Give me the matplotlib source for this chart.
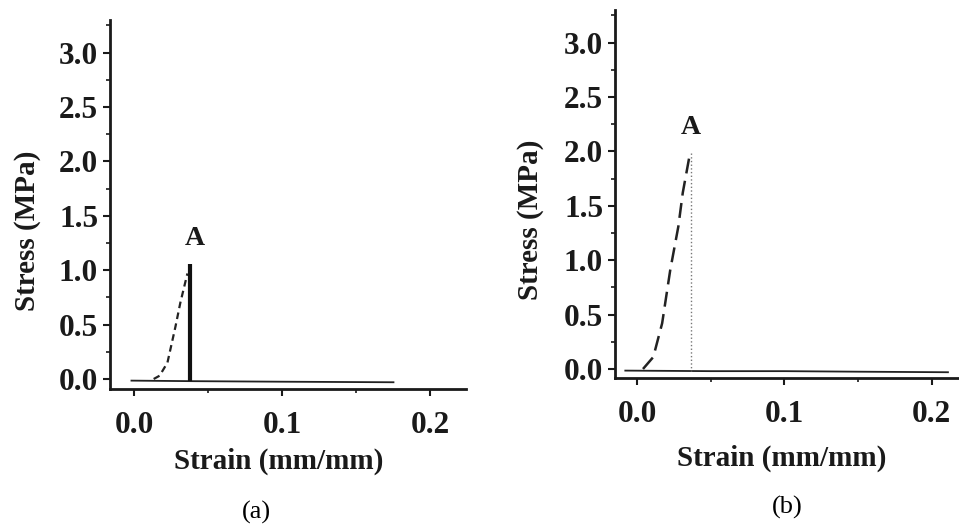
import numpy as np
import matplotlib.pyplot as plt
from matplotlib.ticker import MultipleLocator

plt.rcParams['font.family'] = 'Liberation Serif'

# (a) loading curve up to failure point A, then the drop and the baseline
a_load_strain = [0.013, 0.017, 0.0223, 0.0277, 0.031, 0.0358]
a_load_stress = [0.0, 0.03, 0.15, 0.48, 0.70, 0.97]
a_drop_strain = [0.0378, 0.0378]
a_drop_stress = [1.06, -0.02]
a_base_strain = [-0.002, 0.04, 0.10, 0.175]
a_base_stress = [-0.015, -0.02, -0.025, -0.03]
a_peak = (0.0405, 1.29)

# (b)
b_load_strain = [0.004, 0.011, 0.017, 0.0225, 0.028, 0.031, 0.036]
b_load_stress = [0.0, 0.11, 0.42, 0.91, 1.31, 1.62, 1.99]
b_drop_strain = [0.0365, 0.0365]
b_drop_stress = [1.99, -0.02]
b_base_strain = [-0.008, 0.05, 0.10, 0.15, 0.211]
b_base_stress = [-0.015, -0.02, -0.02, -0.025, -0.03]
b_peak = (0.0366, 2.22)

x_ticks = [0.0, 0.1, 0.2]
y_ticks = [0.0, 0.5, 1.0, 1.5, 2.0, 2.5, 3.0]

fig = plt.figure(figsize=(9.59, 5.26), dpi=100)
ax1 = fig.add_axes([110/959, 1-389/526, 356/959, 369/526])
ax2 = fig.add_axes([615/959, 1-378/526, 344/959, 368/526])


def style(ax, xlim, ylim):
    ax.set_xlim(*xlim)
    ax.set_ylim(*ylim)
    for s in ['top', 'right']:
        ax.spines[s].set_visible(False)
    for s in ['left', 'bottom']:
        ax.spines[s].set_linewidth(2.0)
        ax.spines[s].set_color('#1a1a1a')
    ax.set_xticks(x_ticks)
    ax.set_yticks(y_ticks)
    ax.set_xticklabels(['%.1f' % v for v in x_ticks])
    ax.set_yticklabels(['%.1f' % v for v in y_ticks])
    ax.xaxis.set_minor_locator(MultipleLocator(0.05))
    ax.yaxis.set_minor_locator(MultipleLocator(0.25))
    ax.tick_params(which='major', direction='out', length=5, width=1.5,
                   labelsize=22.5, pad=3.5, color='#1a1a1a')
    ax.tick_params(which='minor', direction='out', length=3, width=1.2,
                   color='#1a1a1a')
    ax.tick_params(axis='x', pad=11)
    for lab in ax.get_xticklabels() + ax.get_yticklabels():
        lab.set_fontweight('bold')
        lab.set_color('#1a1a1a')
    ax.set_ylabel('Stress (MPa)', fontsize=21, fontweight='bold', color='#1a1a1a')
    ax.set_xlabel('Strain (mm/mm)', fontsize=21, fontweight='bold', color='#1a1a1a')


style(ax1, (-0.0165, 0.224), (-0.092, 3.30))
ax1.plot(a_base_strain, a_base_stress, color='#222222', lw=1.3)
ax1.plot(a_load_strain, a_load_stress, color='#222222', lw=1.6, dashes=(3, 2))
ax1.plot(a_drop_strain, a_drop_stress, color='#111111', lw=3.0, solid_capstyle='butt')
ax1.text(a_peak[0], a_peak[1], 'A', fontsize=20, fontweight='bold',
         ha='center', va='center', color='#1a1a1a')
ax1.yaxis.set_label_coords(-0.195, 0.43)
ax1.xaxis.set_label_coords(0.473, -0.16)

style(ax2, (-0.015, 0.2185), (-0.083, 3.30))
ax2.plot(b_base_strain, b_base_stress, color='#222222', lw=1.3)
ax2.plot(b_load_strain, b_load_stress, color='#222222', lw=1.8, dashes=(6, 3))
ax2.plot(b_drop_strain, b_drop_stress, color='#777777', lw=1.0, ls=':')
ax2.text(b_peak[0], b_peak[1], 'A', fontsize=20, fontweight='bold',
         ha='center', va='center', color='#1a1a1a')
ax2.yaxis.set_label_coords(-0.207, 0.43)
ax2.xaxis.set_label_coords(0.485, -0.18)

fig.text(256/959, 1-512/526, '(a)', fontsize=19, ha='center', va='center')
fig.text(787/959, 1-507/526, '(b)', fontsize=19, ha='center', va='center')

plt.savefig('out.png', dpi=100)
